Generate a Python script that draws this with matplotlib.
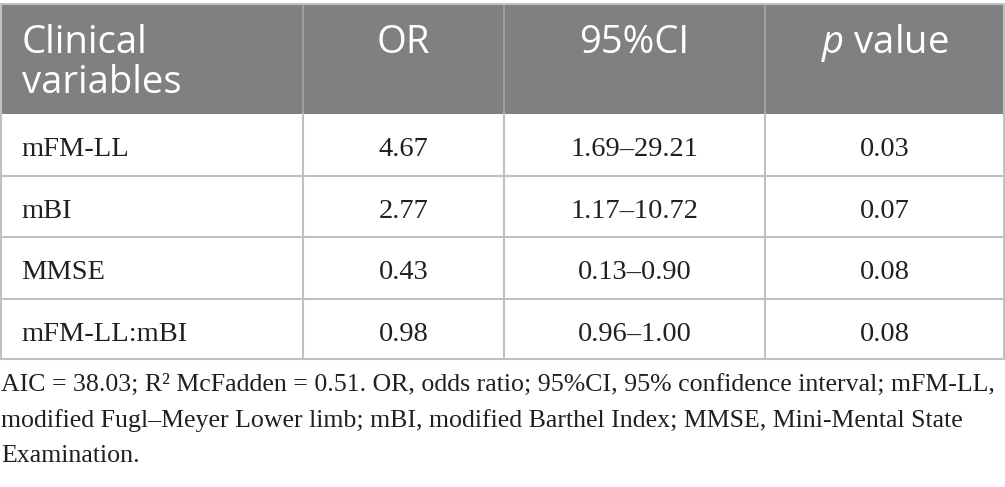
import matplotlib
matplotlib.use("Agg")
import matplotlib.pyplot as plt
from matplotlib.patches import Rectangle

# ---- data ----
headers = ["Clinical\nvariables", "OR", "95%CI", r"$\mathit{p}$ value"]
variables = ["mFM-LL", "mBI", "MMSE", "mFM-LL:mBI"]
odds_ratio = [4.67, 2.77, 0.43, 0.98]
ci_low = [1.69, 1.17, 0.13, 0.96]
ci_high = [29.21, 10.72, 0.90, 1.00]
p_values = [0.03, 0.07, 0.08, 0.08]
footnote_lines = [
    "AIC = 38.03; R\u00b2 McFadden = 0.51. OR, odds ratio; 95%CI, 95% confidence interval; mFM-LL,",
    "modified Fugl\u2013Meyer Lower limb; mBI, modified Barthel Index; MMSE, Mini-Mental State",
    "Examination.",
]

plt.rcParams['mathtext.fontset'] = 'custom'
plt.rcParams['mathtext.it'] = 'Open Sans:italic'
plt.rcParams['mathtext.rm'] = 'Open Sans'

W, H = 1005, 487
fig = plt.figure(figsize=(W / 100, H / 100), dpi=100)
ax = fig.add_axes([0, 0, 1, 1])
ax.set_xlim(0, W)
ax.set_ylim(H, 0)
ax.axis('off')

col_x = [0.5, 303, 504, 765, 1004]
top = 4
head_bot = 114
row_lines = [114, 176, 237, 299, 359]

header_bg = "#808080"
grid_c = "#c0c0c0"

ax.add_patch(Rectangle((col_x[0], top), col_x[-1] - col_x[0], head_bot - top,
                       facecolor=header_bg, edgecolor='none', zorder=1))
for x in col_x[1:-1]:
    ax.plot([x, x], [top, head_bot], color="#a6a6a6", lw=1.2, zorder=2)
ax.plot([col_x[0], col_x[-1]], [top, top], color=grid_c, lw=1.5, zorder=3)

for y in row_lines[1:]:
    ax.plot([col_x[0], col_x[-1]], [y, y], color=grid_c, lw=1.5, zorder=3)
for x in col_x:
    ax.plot([x, x], [head_bot, row_lines[-1]], color=grid_c, lw=1.5, zorder=3)
for x in [col_x[0], col_x[-1]]:
    ax.plot([x, x], [top, head_bot], color=grid_c, lw=1.5, zorder=3)

# header text
hfs = 27.5
centers = [(col_x[i] + col_x[i + 1]) / 2 for i in range(4)]
ax.text(22, 53, "Clinical", family="Open Sans", fontsize=hfs, color="white",
        ha='left', va='baseline', zorder=4)
ax.text(22, 93, "variables", family="Open Sans", fontsize=hfs, color="white",
        ha='left', va='baseline', zorder=4)
for i in range(1, 4):
    ax.text(centers[i], 53, headers[i], family="Open Sans", fontsize=hfs, color="white",
            ha='center', va='baseline', zorder=4)

# body text
bfs = 20.5
tc = "#231f20"
for r in range(len(variables)):
    yb = row_lines[r] + 42
    ax.text(21, yb, variables[r], family="Liberation Serif", fontsize=bfs, color=tc,
            ha='left', va='baseline', zorder=4)
    ax.text(centers[1], yb, f"{odds_ratio[r]:.2f}", family="Liberation Serif", fontsize=bfs,
            color=tc, ha='center', va='baseline', zorder=4)
    ax.text(centers[2], yb, f"{ci_low[r]:.2f}\u2013{ci_high[r]:.2f}", family="Liberation Serif",
            fontsize=bfs, color=tc, ha='center', va='baseline', zorder=4)
    ax.text(centers[3], yb, f"{p_values[r]:.2f}", family="Liberation Serif", fontsize=bfs,
            color=tc, ha='center', va='baseline', zorder=4)

# footnote
ffs = 18.6
fb = [391, 426.5, 462]
for yb, line in zip(fb, footnote_lines):
    ax.text(1, yb, line, family="Liberation Serif", fontsize=ffs, color=tc,
            ha='left', va='baseline', zorder=4)

fig.savefig("out.png", dpi=100)
